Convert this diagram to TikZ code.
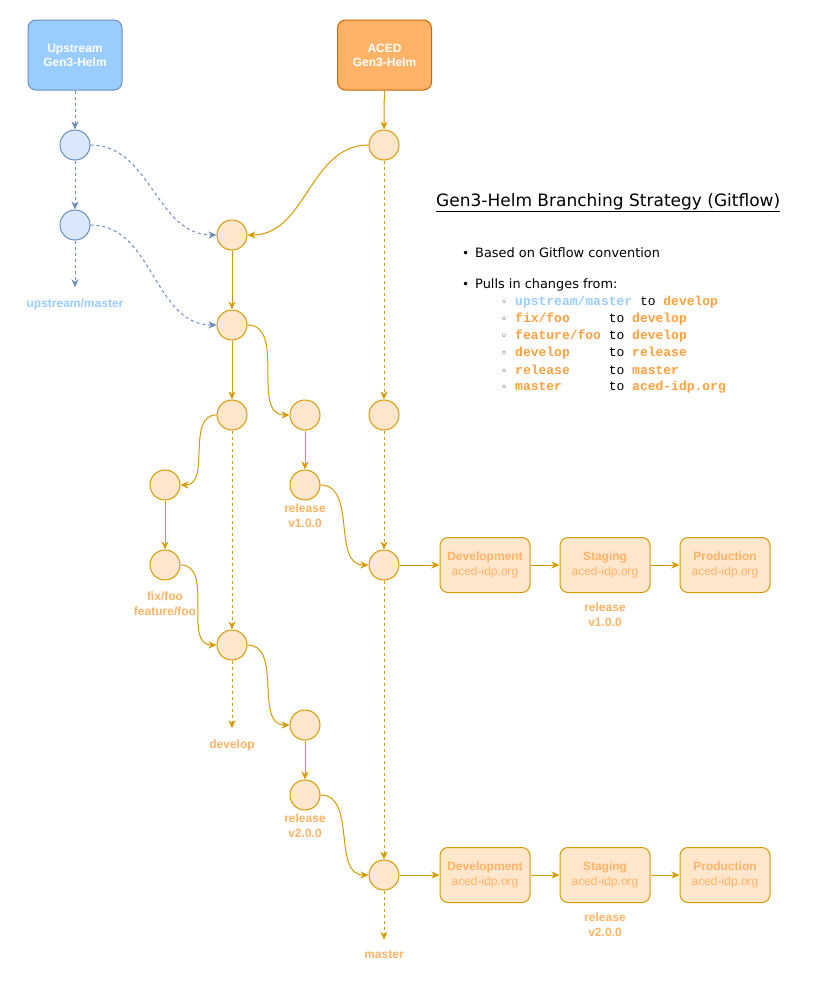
\documentclass[tikz,border=0pt]{standalone}
\usepackage{fontspec}
\setmainfont{Liberation Sans}
\setmonofont{Liberation Mono}
\newfontfamily\verdana{DejaVu Sans}
\usetikzlibrary{arrows.meta}
\definecolor{upfill}{HTML}{99CCFF}
\definecolor{upline}{HTML}{6C8EBF}
\definecolor{upcirc}{HTML}{DAE8FC}
\definecolor{acfill}{HTML}{FFB366}
\definecolor{acline}{HTML}{CC6600}
\definecolor{orfill}{HTML}{FFE6CC}
\definecolor{orline}{HTML}{D79B00}
\definecolor{orlabel}{HTML}{FFB366}
\definecolor{brlabel}{HTML}{FFA040}
\newcommand{\br}[1]{{\color{brlabel}\bfseries #1}}
\newcommand{\ub}[1]{{\color{upfill}\bfseries #1}}
\tikzset{
	repo/.style={draw, rounded corners=8pt, minimum width=94pt, minimum height=70pt, line width=1pt,
		text=white, align=center, font=\bfseries\fontsize{12}{14}\selectfont},
	commit/.style={circle, draw=orline, fill=orfill, minimum size=30pt, inner sep=0pt, line width=1pt},
	ucommit/.style={commit, draw=upline, fill=upcirc},
	env/.style={draw=orline, fill=orfill, rounded corners=8pt, minimum width=90pt, minimum height=55pt,
		line width=1pt, text=orlabel, align=center, font=\fontsize{12}{15}\selectfont},
	tag/.style={text=orlabel, align=center, inner sep=11pt, font=\bfseries\fontsize{12}{15}\selectfont},
	flow/.style={->, draw=orline, line width=1pt},
	dflow/.style={flow, dash pattern=on 3pt off 3pt},
	uflow/.style={->, draw=upline, line width=1pt, dash pattern=on 3pt off 3pt},
	item/.style={anchor=west, inner sep=0pt, font=\verdana\fontsize{12.9}{14}\selectfont},
	sub/.style={anchor=west, inner sep=0pt, font=\ttfamily\fontsize{13}{15}\selectfont}
}
\begin{document}
\begin{tikzpicture}[x=1pt, y=-1pt, node distance=90pt, >={Stealth[length=8pt, width=7pt, inset=2.5pt]}]
		\useasboundingbox[fill=white] (0,0) rectangle (840,991);
		\node[repo, fill=upfill, draw=upline] (U) at (75,55) {Upstream\\Gen3-Helm};
		\node[repo, fill=acfill, draw=acline] (A) at (384.5,55) {ACED\\Gen3-Helm};
		\node[ucommit] (U1) at (75,145) {};
		\node[ucommit] (U2) at (75,225) {};
		\node[tag, text=upfill] (UM) at (75,304) {upstream/master};
		\node[commit] (A1) at (384,145) {};
		\node[commit] (D1) at (232,235) {};
		\node[commit] (D2) [below of=D1] {};
		\node[commit] (D3) [below of=D2] {};
		\node[commit] (D4) at (232,645) {};
		\node[tag] (DV) at (232,745) {develop};
		\node[commit] (F1) at (165,485) {};
		\node[commit] (F2) at (165,565) {};
		\node[tag] (FL) at (165,604) {fix/foo\\feature/foo};
		\node[commit] (R1) at (305,415) {};
		\node[commit] (R2) at (305,485) {};
		\node[tag] (RL1) at (305,516) {release\\v1.0.0};
		\node[commit] (R3) at (305,725) {};
		\node[commit] (R4) at (305,795) {};
		\node[tag] (RL2) at (305,826) {release\\v2.0.0};
		\node[commit] (M1) at (384,415) {};
		\node[commit] (M2) at (384,565) {};
		\node[commit] (M3) at (384,875) {};
		\node[tag] (MA) at (384,955) {master};
		\node[env] (E1) at (485,565) {\textbf{Development}\\aced-idp.org};
		\node[env] (S1) [right of=E1, node distance=120pt] {\textbf{Staging}\\aced-idp.org};
		\node[env] (P1) [right of=S1, node distance=120pt] {\textbf{Production}\\aced-idp.org};
		\node[tag] (EL1) at (605,615) {release\\v1.0.0};
		\node[env] (E2) at (485,875) {\textbf{Development}\\aced-idp.org};
		\node[env] (S2) [right of=E2, node distance=120pt] {\textbf{Staging}\\aced-idp.org};
		\node[env] (P2) [right of=S2, node distance=120pt] {\textbf{Production}\\aced-idp.org};
		\node[tag] (EL2) at (605,925) {release\\v2.0.0};
		\node[anchor=west, inner sep=0pt, font=\verdana\fontsize{17}{19}\selectfont] (T) at (436,203) {\underline{Gen3-Helm Branching Strategy (Gitflow)}};
		\node[item] (B1) at (462,253) {\makebox[13pt][l]{\large •}Based on Gitflow convention};
		\node[item] (B2) at (462,285) {\makebox[13pt][l]{\large •}Pulls in changes from:};
		\node[sub] (L1) at (501,302) {\makebox[14pt][l]{\verdana\fontsize{10}{10}\selectfont ◦}\ub{upstream/master} to \br{develop}};
		\node[sub] (L2) at (501,319) {\makebox[14pt][l]{\verdana\fontsize{10}{10}\selectfont ◦}\makebox[7.2em][l]{\br{fix/foo}}to \br{develop}};
		\node[sub] (L3) at (501,336) {\makebox[14pt][l]{\verdana\fontsize{10}{10}\selectfont ◦}\makebox[7.2em][l]{\br{feature/foo}}to \br{develop}};
		\node[sub] (L4) at (501,353) {\makebox[14pt][l]{\verdana\fontsize{10}{10}\selectfont ◦}\makebox[7.2em][l]{\br{develop}}to \br{release}};
		\node[sub] (L5) at (501,370) {\makebox[14pt][l]{\verdana\fontsize{10}{10}\selectfont ◦}\makebox[7.2em][l]{\br{release}}to \br{master}};
		\node[sub] (L6) at (501,387) {\makebox[14pt][l]{\verdana\fontsize{10}{10}\selectfont ◦}\makebox[7.2em][l]{\br{master}}to \br{aced-idp.org}};
		\draw[uflow](U) to (U1);
		\draw[uflow](U1) to (U2);
		\draw[uflow](U2) to (UM);
		\draw[uflow](U1) to[out=0, in=180] (D1);
		\draw[uflow](U2) to[out=0, in=180] (D2);
		\draw[flow](A) to (A1);
		\draw[flow](A1) to[out=180, in=0] (D1);
		\draw[dflow](A1) to (M1);
		\draw[dflow](M1) to (M2);
		\draw[dflow](M2) to (M3);
		\draw[dflow](M3) to (MA);
		\draw[flow](D1) to (D2);
		\draw[flow](D2) to (D3);
		\draw[flow](D2) to[out=0, in=180] (R1);
		\draw[dflow](D3) to (D4);
		\draw[flow](D3) to[out=180, in=0] (F1);
		\draw[flow](F1) to (F2);
		\draw[flow](F2) to[out=0, in=180] (D4);
		\draw[dflow](D4) to (DV);
		\draw[flow](D4) to[out=0, in=180] (R3);
		\draw[flow](R1) to (R2);
		\draw[flow](R2) to[out=0, in=180] (M2);
		\draw[flow](R3) to (R4);
		\draw[flow](R4) to[out=0, in=180] (M3);
		\draw[flow](M2) to (E1);
		\draw[flow](E1) to (S1);
		\draw[flow](S1) to (P1);
		\draw[flow](M3) to (E2);
		\draw[flow](E2) to (S2);
		\draw[flow](S2) to (P2);
\end{tikzpicture}
\end{document}
